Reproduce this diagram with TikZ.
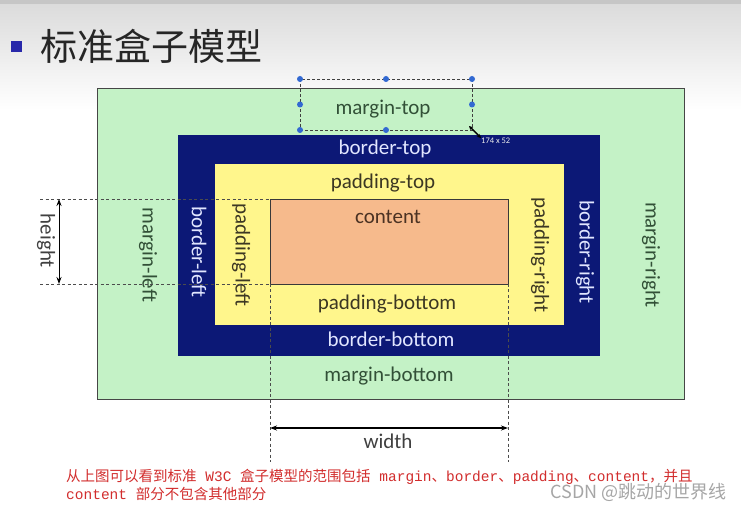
\documentclass[tikz,border=0pt]{standalone}
\usepackage{fontspec}
\setmainfont{Carlito}
\newfontfamily\cjk{Noto Sans CJK SC}
\newfontfamily\monof{Liberation Mono}
\usetikzlibrary{arrows.meta}
\definecolor{mgreen}{RGB}{196,242,198}
\definecolor{bblue}{RGB}{12,24,118}
\definecolor{pyellow}{RGB}{255,246,140}
\definecolor{corange}{RGB}{246,186,140}
\definecolor{mtext}{RGB}{50,80,55}
\definecolor{btext}{RGB}{225,230,255}
\definecolor{ptext}{RGB}{60,55,35}
\definecolor{ctext}{RGB}{75,50,35}
\definecolor{redtext}{RGB}{210,45,45}
\definecolor{seldot}{RGB}{50,105,210}
\definecolor{bullet}{RGB}{40,40,170}
\tikzset{
  box/.style={anchor=north west, inner sep=0pt, outer sep=0pt},
  lbl/.style={font=\fontsize{21}{23}\selectfont, inner sep=0pt},
  vlbl/.style={lbl, rotate=-90},
  guide/.style={draw=gray!60!black, dashed, line width=0.7pt, dash pattern=on 3pt off 2.5pt},
  dim/.style={draw=black, line width=1.2pt, {Stealth[length=7pt,width=5pt]}-{Stealth[length=7pt,width=5pt]}},
  handle/.style={circle, fill=seldot, inner sep=0pt, minimum size=6pt},
}
\begin{document}
\begin{tikzpicture}[x=1pt,y=-1pt]
\useasboundingbox (0,0) rectangle (741,510);
% background
\fill[white] (0,0) rectangle (741,510);
\shade[top color=gray!28, bottom color=white] (0,4) rectangle (741,110);
\fill[gray!45] (0,0) rectangle (741,4);
% title
\node[box, fill=bullet, minimum width=11pt, minimum height=11pt] (bul) at (11,41) {};
\node[anchor=west, inner sep=0pt, font=\cjk\fontsize{37}{40}\selectfont, text=black!85] (title) at (40,46) {标准盒子模型};
% boxes
\node[box, draw=gray!55!black, line width=0.9pt, fill=mgreen, minimum width=587pt, minimum height=311pt] (margin) at (97,88) {};
\node[box, fill=bblue, minimum width=422pt, minimum height=221pt] (border) at (178,135) {};
\node[box, fill=pyellow, minimum width=349pt, minimum height=161pt] (padding) at (215,164) {};
\node[box, draw=gray!45!black, line width=0.7pt, fill=corange, minimum width=238pt, minimum height=85pt] (content) at (270,199) {};
% labels
\node[lbl, text=mtext] (mt) at (383,109) {margin-top};
\node[lbl, text=btext] (bt) at (385,149) {border-top};
\node[lbl, text=ptext] (pt) at (383,183) {padding-top};
\node[lbl, text=ctext] (ct) at (388,217) {content};
\node[lbl, text=ptext] (pb) at (387,304) {padding-bottom};
\node[lbl, text=btext] (bb) at (391,339) {border-bottom};
\node[lbl, text=mtext] (mb) at (389,376) {margin-bottom};
\node[vlbl, text=mtext] (ml) at (148,255) {margin-left};
\node[vlbl, text=btext] (bl) at (199,252) {border-left};
\node[vlbl, text=ptext] (pl) at (241,255) {padding-left};
\node[vlbl, text=ptext] (pr) at (540,255) {padding-right};
\node[vlbl, text=btext] (br) at (585,252) {border-right};
\node[vlbl, text=mtext] (mr) at (651,255) {margin-right};
% height guides
\coordinate (h1) at (40,199);
\coordinate (h2) at (40,284);
\draw[guide] (h1) -- (content.north west);
\draw[guide] (h2) -- (content.south west);
\coordinate (ha) at (59,199);
\coordinate (hb) at (59,284);
\draw[dim, line width=1pt] (ha) -- (hb);
\node[vlbl, text=black!75] (hl) at (46,241) {height};
% width guides
\coordinate (w1) at (270,462);
\coordinate (w2) at (508,462);
\draw[guide] (content.south west) -- (w1);
\draw[guide] (content.south east) -- (w2);
\coordinate (wa) at (270,428);
\coordinate (wb) at (508,428);
\draw[dim] (wa) -- (wb);
\node[lbl, text=black!75] (wl) at (388,441) {width};
% selection rectangle
\node[box, draw=gray!50!black, dashed, line width=0.7pt, dash pattern=on 3pt off 2pt, minimum width=172pt, minimum height=51pt] (sel) at (300,79) {};
\foreach \a/\n in {north west/s1, north/s2, north east/s3, west/s4, east/s5, south west/s6, south/s7}
  \node[handle] (\n) at (sel.\a) {};
\coordinate (cur1) at (469,126);
\coordinate (cur2) at (481,138);
\draw[black, line width=1.4pt, {Stealth[length=4pt,width=4pt]}-{Stealth[length=4pt,width=4pt]}] (cur1) -- (cur2);
\node[anchor=west, inner sep=0pt, font=\fontsize{8.5}{9}\selectfont, text=white!85!gray] (size) at (481,141) {174 x 52};
% red explanatory text
\node[anchor=west, inner sep=0pt, text=redtext, font=\cjk\fontsize{14.5}{16}\selectfont] (note1) at (66,477)
  {从上图可以看到标准{\monof\ W3C }盒子模型的范围包括{\monof\ margin}、{\monof border}、{\monof padding}、{\monof content}，并且};
\node[anchor=west, inner sep=0pt, text=redtext, font=\cjk\fontsize{14.5}{16}\selectfont] (note2) at (66,494)
  {{\monof content }部分不包含其他部分};
% watermark
\node[anchor=east, inner sep=0pt, text=gray!70, font=\cjk\fontsize{18}{20}\selectfont] (wm) at (727,492) {CSDN @跳动的世界线};
\end{tikzpicture}
\end{document}
